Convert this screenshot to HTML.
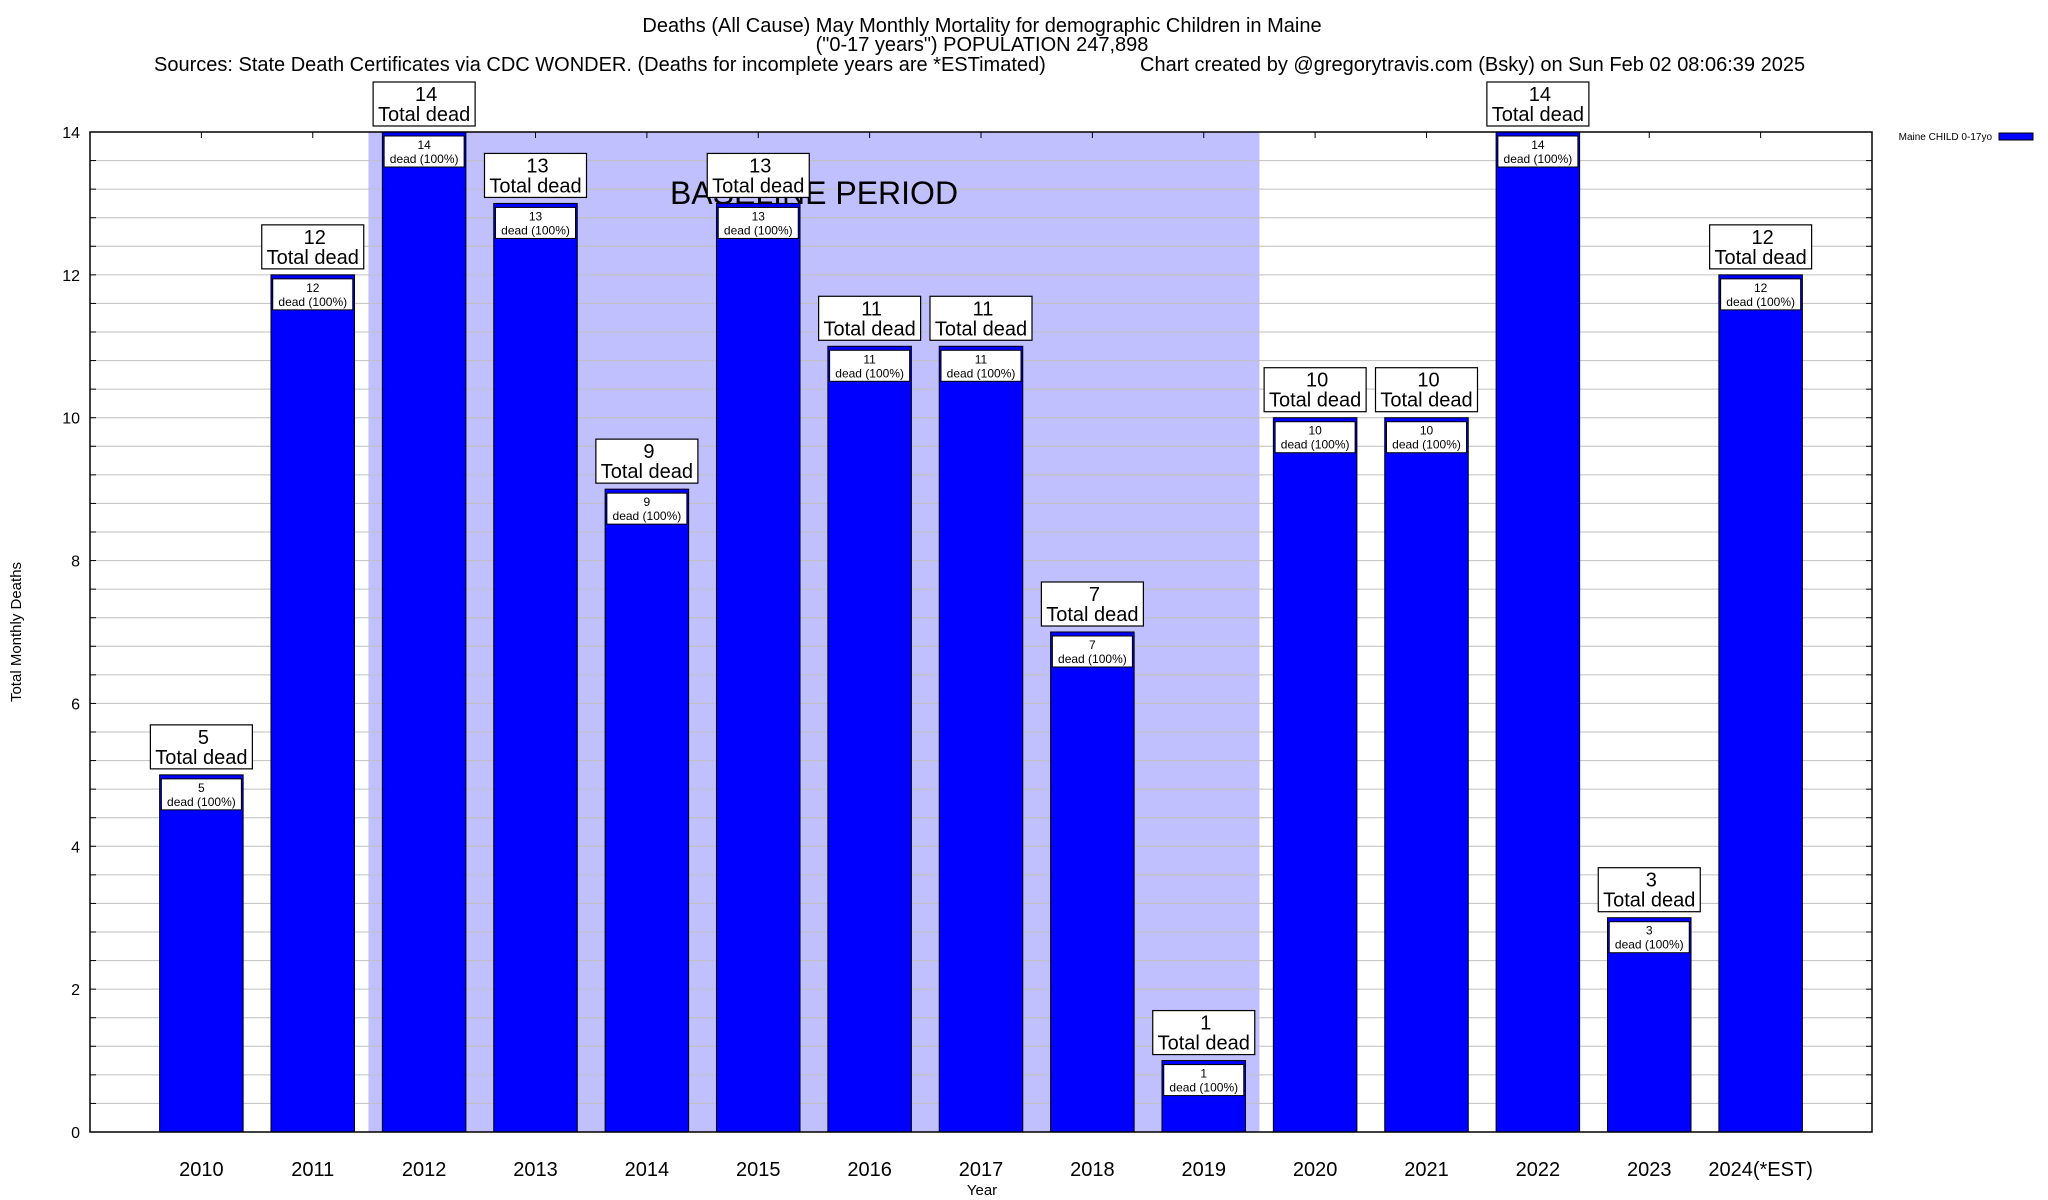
<!DOCTYPE html>
<html><head><meta charset="utf-8"><style>
html,body{margin:0;padding:0;background:#fff;}
svg{display:block;font-family:"Liberation Sans",sans-serif;}
</style></head><body>
<svg id="chart" width="2048" height="1200" viewBox="0 0 2048 1200" xmlns="http://www.w3.org/2000/svg">
<rect x="0" y="0" width="2048" height="1200" fill="#fff"/>
<g id="titles" text-anchor="middle" font-size="20">
<text x="982" y="32">Deaths (All Cause) May Monthly Mortality for demographic Children in Maine</text>
<text x="982" y="51">("0-17 years") POPULATION 247,898</text>
<text x="154" y="71" text-anchor="start">Sources: State Death Certificates via CDC WONDER. (Deaths for incomplete years are *ESTimated)</text>
<text x="1140" y="71" text-anchor="start">Chart created by @gregorytravis.com (Bsky) on Sun Feb 02 08:06:39 2025</text>
</g>
<g id="plot"></g>
</svg>
<script>
const categories=["2010","2011","2012","2013","2014","2015","2016","2017","2018","2019","2020","2021","2022","2023","2024(*EST)"];
const deaths=[5,12,14,13,9,13,11,11,7,1,10,10,14,3,12];
const yTicks=[0,2,4,6,8,10,12,14];
const baselineStart=2, baselineEnd=9;

const L=90,R=1872,T=132,B=1132,YMAX=14;
const slot=(R-L)/(categories.length+1);
const xs=i=>L+(i+1)*slot;
const ys=v=>B-(v/YMAX)*(B-T);
const NS="http://www.w3.org/2000/svg";
const g=document.getElementById('plot');
function mk(tag,attrs,parent){const e=document.createElementNS(NS,tag);for(const k in attrs)e.setAttribute(k,attrs[k]);(parent||g).appendChild(e);return e;}

const sh=mk('rect',{x:xs(baselineStart)-slot/2,y:T,width:(baselineEnd-baselineStart+1)*slot,height:B-T,fill:'#c0c0ff'});



for(let v=0;v<=YMAX+0.001;v+=0.4){
  const y=ys(v);
  const ln=mk('line',{x1:L,x2:R,y1:y,y2:y,stroke:'#c0c0c0','stroke-width':1});
  
  
  mk('line',{x1:L,x2:L+6,y1:y,y2:y,stroke:'#000'});
  mk('line',{x1:R-6,x2:R,y1:y,y2:y,stroke:'#000'});
}
const bt=mk('text',{x:814,y:204,'font-size':32,'text-anchor':'middle'});
bt.textContent='BASELINE PERIOD';



yTicks.forEach(v=>{
  const t=mk('text',{x:80,y:ys(v)+6,'font-size':16,'text-anchor':'end'});
  t.textContent=v;
  
  
});

const bw=slot*0.75;
categories.forEach((c,i)=>{
  const x=xs(i), v=deaths[i], y=ys(v);
  mk('line',{x1:x,x2:x,y1:T,y2:T+6,stroke:'#000'});
  mk('line',{x1:x,x2:x,y1:B,y2:B-6,stroke:'#000'});
  const b=mk('rect',{x:x-bw/2,y:y,width:bw,height:B-y,fill:'#0000ff',stroke:'#000','stroke-width':1});
  
  
  const ib=mk('rect',{x:x-40,y:y+4,width:80,height:31,fill:'#fff',stroke:'#000','stroke-width':1});
  
  
  const t1=mk('text',{x:x,y:y+17,'font-size':12,'text-anchor':'middle'});t1.textContent=v;
  
  
  const t2=mk('text',{x:x,y:y+31,'font-size':12,'text-anchor':'middle'});t2.textContent='dead (100%)';
  
  
  const tb=mk('rect',{x:x-51,y:y-50,width:102,height:44,fill:'#fff',stroke:'#000','stroke-width':1.2});
  
  
  const t3=mk('text',{x:x+2,y:y-31,'font-size':20,'text-anchor':'middle'});t3.textContent=v;
  
  
  const t4=mk('text',{x:x,y:y-11,'font-size':20,'text-anchor':'middle'});t4.textContent='Total dead';
  
  
  const xl=mk('text',{x:x,y:1176,'font-size':20,'text-anchor':'middle'});xl.textContent=c;
  
  
});

const fr=mk('rect',{x:L,y:T,width:R-L,height:B-T,fill:'none',stroke:'#000','stroke-width':1.5});



const xt=mk('text',{x:982,y:1195,'font-size':15,'text-anchor':'middle'});xt.textContent='Year';


const yt=mk('text',{x:0,y:0,'font-size':15,'text-anchor':'middle',transform:'translate(21,632) rotate(-90)'});yt.textContent='Total Monthly Deaths';



const lt=mk('text',{x:1992,y:140,'font-size':10,'text-anchor':'end'});lt.textContent='Maine CHILD 0-17yo';


const ls=mk('rect',{x:1999,y:133,width:34,height:7,fill:'#0000ff',stroke:'#000','stroke-width':1});


</script>
</body></html>
